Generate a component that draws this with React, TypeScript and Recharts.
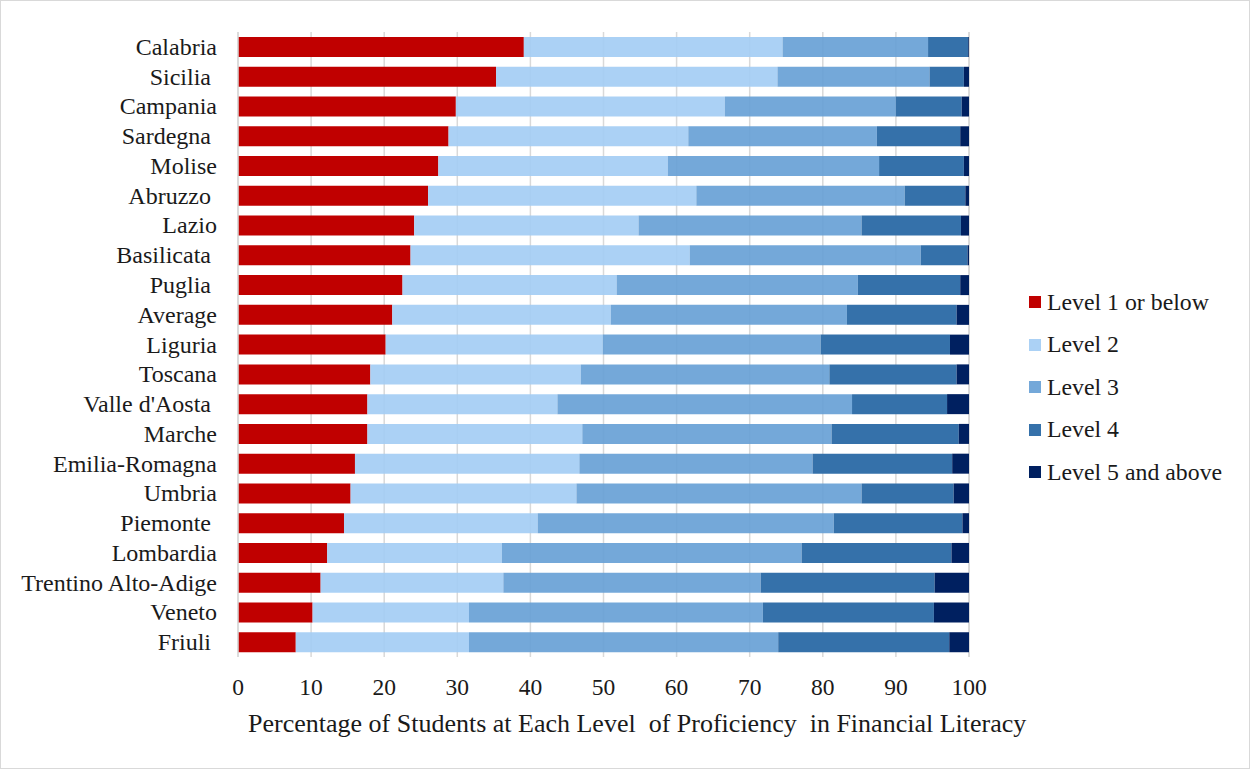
import React from 'react';
import { BarChart, Bar, XAxis, YAxis, CartesianGrid } from 'recharts';

const regions = [
  'Calabria', 'Sicilia ', 'Campania', 'Sardegna ', 'Molise', 'Abruzzo ', 'Lazio',
  'Basilicata ', 'Puglia ', 'Average', 'Liguria', 'Toscana', "Valle d'Aosta ",
  'Marche', 'Emilia-Romagna', 'Umbria', 'Piemonte ', 'Lombardia',
  'Trentino Alto-Adige', 'Veneto', 'Friuli ',
];

const level1 = [39.1, 35.3, 29.8, 28.8, 27.4, 26.0, 24.1, 23.6, 22.5, 21.1, 20.2, 18.1, 17.7, 17.7, 16.0, 15.4, 14.5, 12.2, 11.3, 10.2, 7.9];
const level2 = [35.4, 38.5, 36.8, 32.8, 31.4, 36.7, 30.7, 38.2, 29.3, 29.9, 29.7, 28.8, 26.0, 29.4, 30.7, 30.9, 26.5, 23.9, 25.0, 21.4, 23.7];
const level3 = [19.9, 20.8, 23.4, 25.8, 28.9, 28.5, 30.5, 31.6, 33.0, 32.3, 29.8, 34.0, 40.3, 34.1, 31.9, 39.0, 40.5, 41.0, 35.2, 40.2, 42.3];
const level4 = [5.5, 4.7, 9.0, 11.4, 11.6, 8.3, 13.6, 6.4, 14.0, 15.0, 17.7, 17.4, 13.0, 17.4, 19.1, 12.6, 17.6, 20.5, 23.8, 23.4, 23.4];
const level5 = [0.1, 0.7, 1.0, 1.2, 0.7, 0.5, 1.1, 0.2, 1.2, 1.7, 2.6, 1.7, 3.0, 1.4, 2.3, 2.1, 0.9, 2.4, 4.7, 4.8, 2.7];

const xTicks = [0, 10, 20, 30, 40, 50, 60, 70, 80, 90, 100];

const series = [
  { key: 'l1', name: 'Level 1 or below', fill: '#C00000', opacity: 1, swatch: '#C00000' },
  { key: 'l2', name: 'Level 2', fill: '#A2CCF4', opacity: 0.9, swatch: '#ABD1F5' },
  { key: 'l3', name: 'Level 3', fill: '#659ED5', opacity: 0.9, swatch: '#74A8D9' },
  { key: 'l4', name: 'Level 4', fill: '#3571AA', opacity: 1, swatch: '#3571AA' },
  { key: 'l5', name: 'Level 5 and above', fill: '#002060', opacity: 1, swatch: '#002060' },
];

const data = regions.map((region, i) => ({
  region,
  l1: level1[i],
  l2: level2[i],
  l3: level3[i],
  l4: level4[i],
  l5: level5[i],
}));

const FONT = '"Liberation Serif", "Times New Roman", serif';
const TEXT = '#1a1a1a';

const RegionTick = (props: any) => {
  const { x, y, payload } = props;
  return (
    <text
      x={x}
      y={y}
      textAnchor="end"
      dominantBaseline="central"
      fontFamily={FONT}
      fontSize={24}
      fill={TEXT}
      style={{ whiteSpace: 'pre' }}
    >
      {payload.value}
    </text>
  );
};

const AxisTitle = () => (
  <text x={248} y={732} fontFamily={FONT} fontSize={26} fill={TEXT} style={{ whiteSpace: 'pre' }}>
    Percentage of Students at Each Level  of Proficiency  in Financial Literacy
  </text>
);

// legend drawn as plain html so it does not eat into the plot area
const LegendBox = () => (
  <div style={{ position: 'absolute', left: 1029, top: 281, fontFamily: FONT, fontSize: 23.8, color: TEXT }}>
    {series.map((s) => (
      <div key={s.key} style={{ height: 42.5, display: 'flex', alignItems: 'center' }}>
        <span style={{ width: 12, height: 12, background: s.swatch, display: 'inline-block', marginRight: 6 }} />
        <span style={{ whiteSpace: 'pre' }}>{s.name}</span>
      </div>
    ))}
  </div>
);

export default function App() {
  return (
    <div style={{ position: 'absolute', left: 0, top: 0, width: 1250, height: 769, background: '#fff' }}>
      <BarChart
        width={1250}
        height={769}
        data={data}
        layout="vertical"
        margin={{ top: 32, right: 281, bottom: 52, left: 0 }}
        barSize={20}
      >
        <CartesianGrid horizontal={false} stroke="#d9d9d9" strokeWidth={1.5} />
        <XAxis
          type="number"
          domain={[0, 100]}
          ticks={xTicks}
          axisLine={false}
          tickLine={false}
          tickSize={0}
          tickMargin={21}
          height={60}
          tick={{ fontFamily: FONT, fontSize: 23.5, fill: TEXT }}
          label={<AxisTitle />}
        />
        <YAxis
          type="category"
          dataKey="region"
          width={238}
          axisLine={{ stroke: '#d9d9d9', strokeWidth: 1.5 }}
          tickLine={false}
          tickSize={0}
          tickMargin={21}
          interval={0}
          tick={<RegionTick />}
        />
        {series.map((s) => (
          <Bar
            key={s.key}
            dataKey={s.key}
            name={s.name}
            stackId="a"
            fill={s.fill}
            fillOpacity={s.opacity}
            isAnimationActive={false}
          />
        ))}
      </BarChart>
      <LegendBox />
      <div
        style={{
          position: 'absolute', left: 0, top: 0, width: 1250, height: 769,
          boxSizing: 'border-box', border: '1px solid #d9d9d9', pointerEvents: 'none',
        }}
      />
    </div>
  );
}
